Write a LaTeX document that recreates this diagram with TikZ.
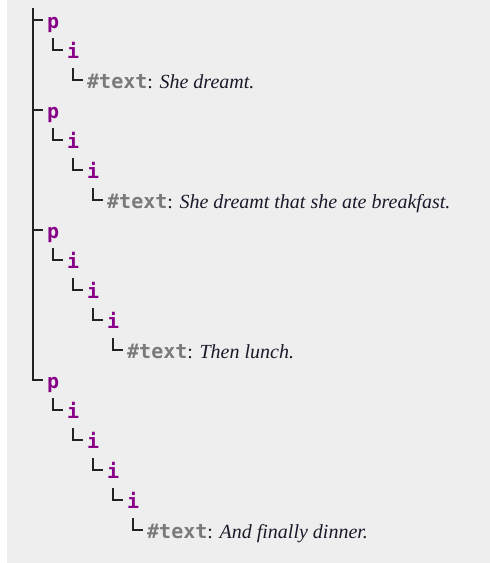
\documentclass[tikz,border=0pt]{standalone}
\usepackage{fontspec}
\setmainfont{Liberation Serif}
\newfontfamily\monofont{DejaVu Sans Mono}
\definecolor{bgcol}{HTML}{EEEEEE}
\definecolor{tagcol}{HTML}{880088}
\definecolor{keycol}{HTML}{7A7A7A}
\definecolor{linecol}{HTML}{222222}
\definecolor{txtcol}{HTML}{1A1A2A}
\tikzset{
  x=1pt, y=-1pt,
  tag/.style={anchor=base west, inner sep=0pt, text=tagcol, font=\monofont\bfseries\fontsize{20}{20}\selectfont},
  leaf/.style={anchor=base west, inner sep=0pt, font=\fontsize{20}{20}\selectfont},
  conn/.style={draw=linecol, line width=2.6pt},
}
\newcommand{\keytext}[1]{{\monofont\bfseries\fontsize{20}{20}\selectfont\color{keycol}\#text}\textcolor{txtcol}{: \textit{#1}}}
\begin{document}
\begin{tikzpicture}
\useasboundingbox (0,0) rectangle (490,563);
\fill[bgcol] (7,0) rectangle (490,563);
\coordinate (root) at (33,8);
% block 1
\node[tag] (p1) at (47,28) {p};
\node[tag] (p1a) at (67,58) {i};
\node[leaf] (p1t) at (87,88) {\keytext{She dreamt.}};
% block 2
\node[tag] (p2) at (47,118) {p};
\node[tag] (p2a) at (67,148) {i};
\node[tag] (p2b) at (87,178) {i};
\node[leaf] (p2t) at (107,208) {\keytext{She dreamt that she ate breakfast.}};
% block 3
\node[tag] (p3) at (47,238) {p};
\node[tag] (p3a) at (67,268) {i};
\node[tag] (p3b) at (87,298) {i};
\node[tag] (p3c) at (107,328) {i};
\node[leaf] (p3t) at (127,358) {\keytext{Then lunch.}};
% block 4
\node[tag] (p4) at (47,388) {p};
\node[tag] (p4a) at (67,418) {i};
\node[tag] (p4b) at (87,448) {i};
\node[tag] (p4c) at (107,478) {i};
\node[tag] (p4d) at (127,508) {i};
\node[leaf] (p4t) at (147,538) {\keytext{And finally dinner.}};
% trunk
\foreach \n in {p1,p2,p3,p4}{
  \coordinate (\n h) at ([shift={(-4,-8)}]\n.base west);
}
\draw[conn] (root) |- (p4h);
\foreach \n in {p1,p2,p3}{
  \draw[conn] (root |- \n h) -- (\n h);
}
% elbows
\foreach \a/\b in {p1/p1a,p1a/p1t,p2/p2a,p2a/p2b,p2b/p2t,p3/p3a,p3a/p3b,p3b/p3c,p3c/p3t,p4/p4a,p4a/p4b,p4b/p4c,p4c/p4d,p4d/p4t}{
  \draw[conn] ([shift={(6,10)}]\a.base west) |- ([shift={(-4,-8)}]\b.base west);
}
\end{tikzpicture}
\end{document}
